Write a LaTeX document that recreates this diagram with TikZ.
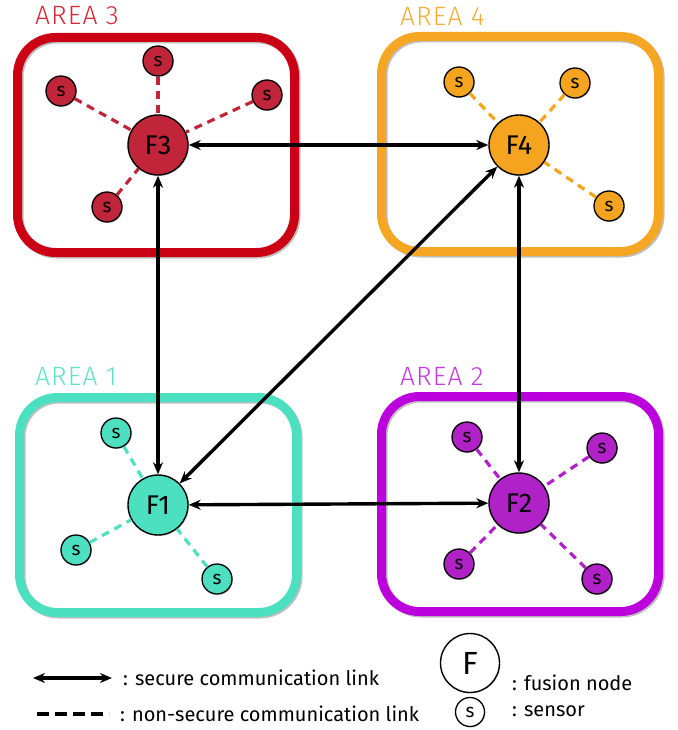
\documentclass[tikz,border=0pt]{standalone}
\usepackage{fontspec}
\setmainfont{Fira Sans}
\newfontfamily\arealight{Fira Sans}[UprightFont=* Light, LetterSpace=4]
\usetikzlibrary{arrows.meta,shadows}
\definecolor{redbox}{HTML}{CC0014}
\definecolor{rednode}{HTML}{C1253A}
\definecolor{redlab}{HTML}{D42A37}
\definecolor{orabox}{HTML}{F5A623}
\definecolor{oranode}{HTML}{F4A41E}
\definecolor{oralab}{HTML}{F5AE35}
\definecolor{teabox}{HTML}{4CE0C2}
\definecolor{teanode}{HTML}{4CE0C0}
\definecolor{tealab}{HTML}{5DE3C8}
\definecolor{purbox}{HTML}{BB00DD}
\definecolor{purnode}{HTML}{B021C8}
\definecolor{purlab}{HTML}{C43BDD}
\begin{document}
\begin{tikzpicture}[x=1pt,y=-1pt,
  areabox/.style={draw, rounded corners=38pt, line width=9pt, minimum width=277pt, minimum height=215pt, inner sep=0pt,
    preaction={draw=black!25, transform canvas={xshift=1.5pt,yshift=-1.5pt}}},
  arealabel/.style={anchor=west, inner sep=0pt, font=\arealight\fontsize{26.5}{26.5}\selectfont},
  fusion/.style={circle, draw=black, line width=1.4pt, minimum size=60pt, inner sep=0pt, font=\fontsize{27}{27}\selectfont,
    drop shadow={shadow xshift=1pt, shadow yshift=-1pt, opacity=0.3}},
  sensor/.style={circle, draw=black, line width=1.3pt, minimum size=30pt, inner sep=0pt, font=\fontsize{19}{19}\selectfont,
    drop shadow={shadow xshift=1pt, shadow yshift=-1pt, opacity=0.3}},
  sec/.style={{Stealth[length=12pt,width=10pt]}-{Stealth[length=12pt,width=10pt]}, line width=3.4pt},
  nonsec/.style={dash pattern=on 8pt off 6pt, line width=3.2pt},
  legtext/.style={anchor=west, inner sep=0pt, font=\fontsize{20}{20}\selectfont}
]
\useasboundingbox (0,0) rectangle (677,730);

% area boxes
\node[areabox, draw=redbox] (A3) at (156,145) {};
\node[areabox, draw=orabox] (A4) at (520,144) {};
\node[areabox, draw=teabox] (A1) at (158,505) {};
\node[areabox, draw=purbox] (A2) at (520,504) {};

% area labels
\node[arealabel, text=redlab] (L3) at (35,16) {AREA 3};
\node[arealabel, text=oralab] (L4) at (400,16) {AREA 4};
\node[arealabel, text=tealab] (L1) at (35,376) {AREA 1};
\node[arealabel, text=purlab] (L2) at (400,376) {AREA 2};

% fusion nodes
\node[fusion, fill=rednode] (F3) at (158,145) {F3};
\node[fusion, fill=oranode] (F4) at (519,145) {F4};
\node[fusion, fill=teanode] (F1) at (158,505) {F1};
\node[fusion, fill=purnode] (F2) at (519,503) {F2};

% sensors area 3
\node[sensor, fill=rednode] (s3a) at (158,61) {s};
\node[sensor, fill=rednode] (s3b) at (61,91) {s};
\node[sensor, fill=rednode] (s3c) at (267,95) {s};
\node[sensor, fill=rednode] (s3d) at (107,207) {s};
% sensors area 4
\node[sensor, fill=oranode] (s4a) at (459,82) {s};
\node[sensor, fill=oranode] (s4b) at (575,83) {s};
\node[sensor, fill=oranode] (s4c) at (609,206) {s};
% sensors area 1
\node[sensor, fill=teanode] (s1a) at (116,433) {s};
\node[sensor, fill=teanode] (s1b) at (76,550) {s};
\node[sensor, fill=teanode] (s1c) at (217,579) {s};
% sensors area 2
\node[sensor, fill=purnode] (s2a) at (467,437) {s};
\node[sensor, fill=purnode] (s2b) at (602,448) {s};
\node[sensor, fill=purnode] (s2c) at (459,564) {s};
\node[sensor, fill=purnode] (s2d) at (597,579) {s};

% non-secure links
\foreach \s in {s3a,s3b,s3c,s3d} \draw[nonsec, draw=rednode] (\s) -- (F3);
\foreach \s in {s4a,s4b,s4c} \draw[nonsec, draw=oranode] (\s) -- (F4);
\foreach \s in {s1a,s1b,s1c} \draw[nonsec, draw=teanode] (\s) -- (F1);
\foreach \s in {s2a,s2b,s2c,s2d} \draw[nonsec, draw=purnode] (\s) -- (F2);

% secure links
\draw[sec] (F3) -- (F4);
\draw[sec] (F3) -- (F1);
\draw[sec] (F4) -- (F2);
\draw[sec] (F1) -- (F2);
\draw[sec] (F1) -- (F4);

% legend
\coordinate (la1) at (33,678);
\coordinate (la2) at (112,678);
\draw[sec, line width=4pt] (la1) -- (la2);
\node[legtext] (t1) at (123,678) {: secure communication link};
\coordinate (lb1) at (37,714);
\coordinate (lb2) at (109,714);
\draw[nonsec, line width=4pt, dash pattern=on 12pt off 6pt] (lb1) -- (lb2);
\node[legtext] (t2) at (120,714) {: non-secure communication link};
\node[fusion, fill=white, minimum size=59pt, font=\fontsize{32}{32}\selectfont] (LF) at (470,663) {F};
\node[sensor, fill=white, minimum size=29pt] (LS) at (470,712) {s};
\node[legtext] (t3) at (512,683) {: fusion node};
\node[legtext] (t4) at (512,711) {: sensor};
\end{tikzpicture}
\end{document}
